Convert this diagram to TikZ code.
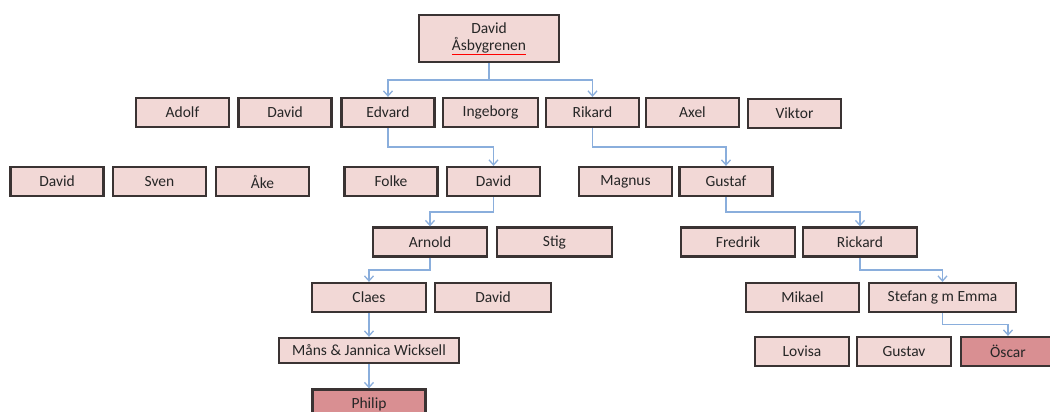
\documentclass[tikz,border=0pt]{standalone}
\usepackage{fontspec}
\setmainfont{Carlito}
\usetikzlibrary{arrows.meta,calc}
\definecolor{boxfill}{HTML}{F2D8D6}
\definecolor{darkfill}{HTML}{D98F92}
\definecolor{boxline}{HTML}{3A3333}
\definecolor{conncol}{HTML}{8AAEDC}
\tikzset{
  pbox/.style={draw=boxline, line width=2.3pt, fill=boxfill, inner sep=0pt,
    minimum width=93pt, minimum height=29pt, font=\fontsize{15.5}{17}\selectfont, text=black!85},
  hbox/.style={pbox, fill=darkfill},
  conn/.style={draw=conncol, line width=1.6pt, -{Straight Barb[length=5pt,width=9pt,line width=1.3pt]}},
  elbow/.style={to path={(\tikztostart) |- ($(\tikztostart)!0.5!(\tikztotarget)$) -| (\tikztotarget)}}
}
\begin{document}
\begin{tikzpicture}[x=1pt,y=-1pt]
\useasboundingbox (0,0) rectangle (1050,412);
\fill[white] (0,0) rectangle (1050,412);
% top
\node[pbox, minimum width=140pt, minimum height=47pt, align=center] (top) at (489,38.5)
  {David\\{\color{red}\underline{\color{black!85}Åsbygrenen}}};
% row 1
\node[pbox] (adolf) at (182.5,112.5) {Adolf};
\node[pbox] (david1) at (285,112.5) {David};
\node[pbox] (edvard) at (388,112.5) {Edvard};
\node[pbox, minimum width=95pt] (ingeborg) at (490.5,112.5) {Ingeborg};
\node[pbox] (rikard) at (592.5,112.5) {Rikard};
\node[pbox] (axel) at (692.5,112.5) {Axel};
\node[pbox] (viktor) at (794.5,113.5) {Viktor};
% row 2
\node[pbox] (david2) at (57,181.5) {David};
\node[pbox] (sven) at (159.5,181.5) {Sven};
\node[pbox] (ake) at (262.5,181.5) {Åke};
\node[pbox] (folke) at (391,181.5) {Folke};
\node[pbox] (david3) at (493.5,181.5) {David};
\node[pbox] (magnus) at (625.5,181.5) {Magnus};
\node[pbox] (gustaf) at (726,181.5) {Gustaf};
% row 3
\node[pbox, minimum width=114pt] (arnold) at (430,242) {Arnold};
\node[pbox, minimum width=115pt] (stig) at (554.5,242) {Stig};
\node[pbox, minimum width=114pt] (fredrik) at (738,242) {Fredrik};
\node[pbox, minimum width=114pt] (rickard) at (860,242) {Rickard};
% row 4
\node[pbox, minimum width=114pt] (claes) at (369,297.5) {Claes};
\node[pbox, minimum width=116pt] (david4) at (493,297.5) {David};
\node[pbox, minimum width=113pt] (mikael) at (802.5,297.5) {Mikael};
\node[pbox, minimum width=147pt] (stefan) at (942.5,297.5) {Stefan g m Emma};
% row 5
\node[pbox, minimum width=180pt, minimum height=25pt] (mans) at (369,350.5) {Måns \& Jannica Wicksell};
\node[pbox, minimum width=94pt] (lovisa) at (802,351.5) {Lovisa};
\node[pbox, minimum width=94pt] (gustav) at (904,351.5) {Gustav};
\node[hbox, minimum width=94pt] (oscar) at (1008,351.5) {Öscar};
% row 6
\node[hbox, minimum width=113pt, minimum height=29pt] (philip) at (369,404) {Philip};
% connectors
\draw[conn] (top.south) to[elbow] (edvard.north);
\draw[conn] (top.south) to[elbow] (rikard.north);
\draw[conn] (edvard.south) to[elbow] (david3.north);
\draw[conn] (rikard.south) to[elbow] (gustaf.north);
\draw[conn] (david3.south) to[elbow] (arnold.north);
\draw[conn] (gustaf.south) to[elbow] (rickard.north);
\draw[conn] (arnold.south) to[elbow] (claes.north);
\draw[conn] (rickard.south) to[elbow] (stefan.north);
\draw[conn] (stefan.south) to[elbow] (oscar.north);
\draw[conn] (claes.south) -- (mans.north);
\draw[conn] (mans.south) -- (philip.north);
\end{tikzpicture}
\end{document}
